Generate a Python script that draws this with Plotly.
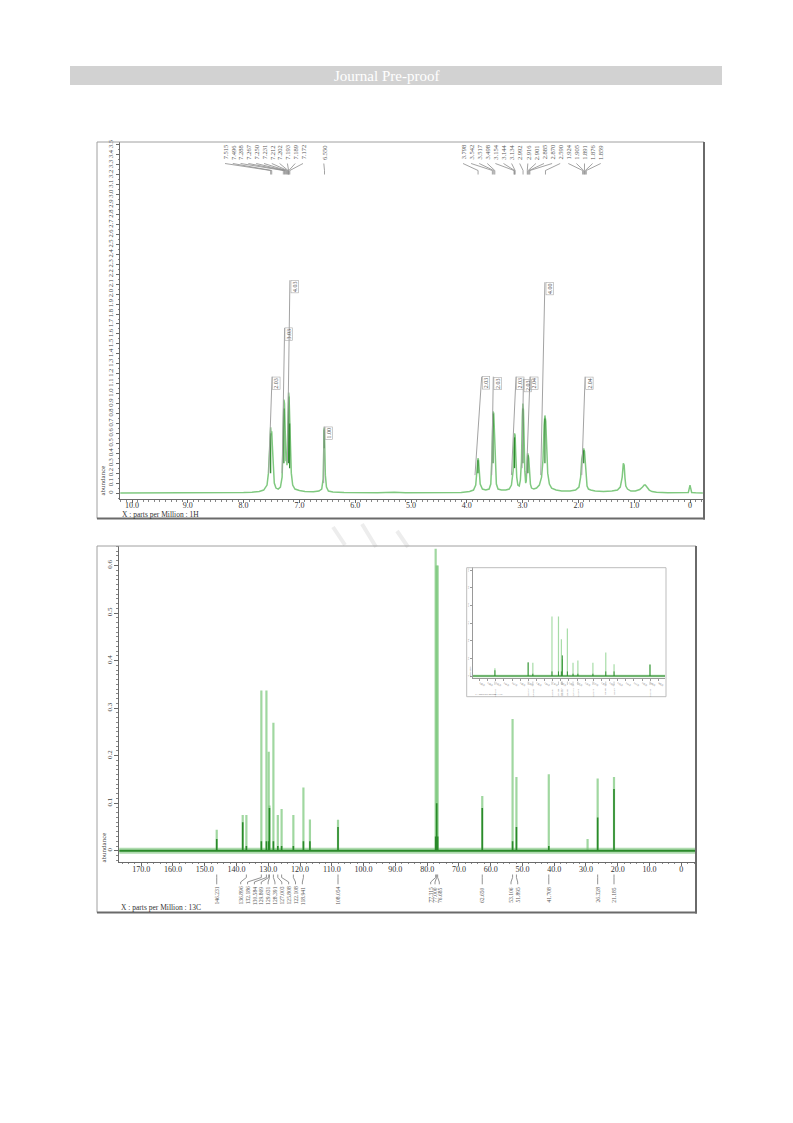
import plotly.graph_objects as go

# ====================== DATA ======================
# --- 1H spectrum trace (ppm, abundance)
h1_ppm = [10.21, 9.5, 8.80, 8.72, 8.65, 8.55, 8.45, 8.35, 8.2, 8.0,
          7.85, 7.72, 7.64, 7.58, 7.555, 7.535, 7.52, 7.515, 7.505, 7.496,
          7.485, 7.47, 7.45, 7.42, 7.38, 7.34, 7.31, 7.295, 7.288, 7.278,
          7.267, 7.258, 7.250, 7.24, 7.231, 7.222, 7.212, 7.202, 7.193, 7.185,
          7.172, 7.16, 7.145, 7.12, 7.08, 7.0, 6.9, 6.75, 6.65, 6.6,
          6.575, 6.562, 6.555, 6.548, 6.535, 6.515, 6.48, 6.4, 6.2, 6.0,
          5.6, 5.3, 5.25, 5.2, 5.1, 4.8, 4.4, 4.1, 3.95, 3.88,
          3.84, 3.815, 3.80, 3.79, 3.775, 3.76, 3.72, 3.66, 3.6, 3.57,
          3.552, 3.542, 3.53, 3.517, 3.505, 3.498, 3.485, 3.47, 3.44, 3.38,
          3.3, 3.24, 3.2, 3.17, 3.155, 3.144, 3.134, 3.122, 3.105, 3.085,
          3.06, 3.04, 3.02, 3.005, 2.995, 2.985, 2.975, 2.96, 2.945, 2.935,
          2.92, 2.91, 2.90, 2.89, 2.875, 2.86, 2.84, 2.8, 2.75, 2.7,
          2.66, 2.635, 2.615, 2.60, 2.585, 2.57, 2.55, 2.52, 2.48, 2.4,
          2.3, 2.15, 2.05, 1.99, 1.96, 1.94, 1.924, 1.915, 1.905, 1.898,
          1.891, 1.876, 1.862, 1.845, 1.82, 1.78, 1.7, 1.55, 1.4, 1.3,
          1.25, 1.215, 1.195, 1.18, 1.165, 1.15, 1.12, 1.06, 0.98, 0.9,
          0.85, 0.82, 0.80, 0.77, 0.73, 0.68, 0.6, 0.4, 0.1, 0.03,
          0.012, 0.0, -0.012, -0.03, -0.1, -0.23]
h1_abund = [0.0, 0.0, 0.0, 0.006, 0.002, 0.005, 0.003, 0.006, 0.003, 0.005,
            0.008, 0.015, 0.03, 0.08, 0.2, 0.45, 0.63, 0.66, 0.58, 0.62,
            0.48, 0.24, 0.1, 0.05, 0.04, 0.06, 0.16, 0.45, 0.82, 0.94,
            0.9, 0.75, 0.62, 0.32, 0.36, 0.28, 0.58, 0.93, 1.01, 0.96,
            0.74, 0.45, 0.2, 0.08, 0.04, 0.025, 0.015, 0.012, 0.02, 0.04,
            0.14, 0.48, 0.66, 0.52, 0.18, 0.06, 0.02, 0.01, 0.005, 0.003,
            0.003, 0.008, 0.01, 0.006, 0.003, 0.002, 0.003, 0.006, 0.015, 0.03,
            0.08, 0.22, 0.35, 0.33, 0.2, 0.09, 0.04, 0.03, 0.04, 0.09,
            0.33, 0.72, 0.82, 0.8, 0.58, 0.47, 0.2, 0.09, 0.04, 0.03,
            0.03, 0.04, 0.08, 0.22, 0.52, 0.6, 0.58, 0.38, 0.16, 0.08,
            0.07, 0.13, 0.32, 0.77, 0.9, 0.83, 0.52, 0.22, 0.1, 0.12,
            0.3, 0.4, 0.38, 0.35, 0.21, 0.09, 0.05, 0.04, 0.05, 0.08,
            0.16, 0.33, 0.68, 0.78, 0.72, 0.43, 0.2, 0.09, 0.05, 0.03,
            0.02, 0.02, 0.03, 0.06, 0.16, 0.34, 0.42, 0.44, 0.45, 0.43,
            0.42, 0.31, 0.16, 0.07, 0.04, 0.03, 0.02, 0.015, 0.02, 0.03,
            0.06, 0.16, 0.3, 0.28, 0.15, 0.07, 0.04, 0.02, 0.02, 0.035,
            0.06, 0.08, 0.08, 0.06, 0.03, 0.015, 0.008, 0.004, 0.003, 0.006,
            0.05, 0.08, 0.05, 0.006, 0.002, 0.0]

# darker picked-peak segments on the 1H trace
h1_pick_ppm = [7.515, 7.278, 7.193, 7.175, 6.555, 3.80, 3.53, 3.144, 2.995, 2.905, 2.60, 1.905]
h1_pick_lo = [0.2, 0.3, 0.3, 0.25, 0.45, 0.2, 0.3, 0.25, 0.3, 0.2, 0.3, 0.3]
h1_pick_hi = [0.6, 0.85, 0.97, 0.7, 0.64, 0.33, 0.8, 0.56, 0.85, 0.38, 0.75, 0.43]

# integrals
h1_int_text = ["2.03", "3.03", "4.03", "1.00", "2.03", "2.03", "2.03", "2.03", "2.04", "4.00", "2.04"]
h1_int_ppm_start = [7.55, 7.31, 7.215, 6.565, 3.853, 3.554, 3.20, 3.01, 2.93, 2.675, 1.94]
h1_int_ppm_end = [7.49, 7.265, 7.17, 6.555, 3.733, 3.525, 3.118, 2.985, 2.867, 2.60, 1.88]
h1_int_lo = [0.2, 0.2, 0.3, 0.1, 0.18, 0.18, 0.18, 0.25, 0.18, 0.18, 0.18]
h1_int_hi = [1.17, 1.66, 2.14, 0.67, 1.17, 1.17, 1.17, 1.15, 1.17, 2.12, 1.17]

# 1H peak labels
h1_labels_a = ["7.515", "7.496", "7.288", "7.267", "7.250", "7.231", "7.212", "7.202", "7.193", "7.189", "7.172"]
h1_labels_b = ["6.550"]
h1_labels_c = ["3.798", "3.542", "3.517", "3.498", "3.154", "3.144", "3.134", "2.992", "2.916",
               "2.901", "2.885", "2.870", "2.590", "1.924", "1.905", "1.891", "1.876", "1.859"]

# 1H axes ticks
h1_xtick_vals = [10, 9, 8, 7, 6, 5, 4, 3, 2, 1, 0]
h1_xtick_text = ["10.0", "9.0", "8.0", "7.0", "6.0", "5.0", "4.0", "3.0", "2.0", "1.0", "0"]
h1_ytick_vals = [0, 0.1, 0.2, 0.3, 0.4, 0.5, 0.6, 0.7, 0.8, 0.9, 1.0, 1.1, 1.2, 1.3, 1.4, 1.5, 1.6, 1.7,
                 1.8, 1.9, 2.0, 2.1, 2.2, 2.3, 2.4, 2.5, 2.6, 2.7, 2.8, 2.9, 3.0, 3.1, 3.2, 3.3, 3.4, 3.5]
h1_ytick_text = ["0", "0.1", "0.2", "0.3", "0.4", "0.5", "0.6", "0.7", "0.8", "0.9", "1.0", "1.1", "1.2",
                 "1.3", "1.4", "1.5", "1.6", "1.7", "1.8", "1.9", "2.0", "2.1", "2.2", "2.3", "2.4", "2.5",
                 "2.6", "2.7", "2.8", "2.9", "3.0", "3.1", "3.2", "3.3", "3.4", "3.5"]

# --- 13C peaks
c13_ppm = [146.231, 138.05, 136.896, 132.186, 130.584, 129.869, 129.631, 128.391, 127.003, 125.808,
           122.108, 118.941, 116.9, 108.054, 77.315, 77.000, 76.685, 62.650, 53.106, 51.895,
           41.708, 29.5, 26.328, 21.185]
c13_abund = [0.044, 0.075, 0.075, 0.337, 0.337, 0.208, 0.095, 0.269, 0.075, 0.088,
             0.075, 0.133, 0.066, 0.065, 0.635, 0.60, 0.60, 0.115, 0.277, 0.155,
             0.161, 0.025, 0.152, 0.155]
c13_dark = [0.025, 0.06, 0.01, 0.02, 0.02, 0.02, 0.09, 0.02, 0.01, 0.01,
            0.01, 0.02, 0.02, 0.05, 0.03, 0.10, 0.03, 0.09, 0.02, 0.05,
            0.01, 0.0, 0.07, 0.13]
c13_baseline_ppm = [177.0, -4.4]
c13_baseline_abund = [0.0, 0.0]

c13_label_groups = [["146.231"],
                    ["136.896", "132.186", "130.584", "129.869", "129.631", "128.391", "127.003",
                     "125.808", "122.108", "118.941"],
                    ["108.054"],
                    ["77.315", "77.000", "76.685"],
                    ["62.650"],
                    ["53.106", "51.895"],
                    ["41.708"], ["26.328"], ["21.185"]]

c13_xtick_vals = [170, 160, 150, 140, 130, 120, 110, 100, 90, 80, 70, 60, 50, 40, 30, 20, 10, 0]
c13_xtick_text = ["170.0", "160.0", "150.0", "140.0", "130.0", "120.0", "110.0", "100.0", "90.0",
                  "80.0", "70.0", "60.0", "50.0", "40.0", "30.0", "20.0", "10.0", "0"]
c13_ytick_vals = [0, 0.1, 0.2, 0.3, 0.4, 0.5, 0.6]
c13_ytick_text = ["0", "0.1", "0.2", "0.3", "0.4", "0.5", "0.6"]

inset_xtick_vals = [150, 148, 146, 144, 142, 140, 138, 136, 134, 132, 130, 128, 126, 124, 122, 120,
                    118, 116, 114, 112, 110, 108, 106]
inset_xtick_text = ["150.0", "148.0", "146.0", "144.0", "142.0", "140.0", "138.0", "136.0", "134.0",
                    "132.0", "130.0", "128.0", "126.0", "124.0", "122.0", "120.0", "118.0", "116.0",
                    "114.0", "112.0", "110.0", "108.0", "106.0"]

# ====================== LAYOUT HELPERS ======================
W, H = 793, 1123
SERIF = "Liberation Serif, Times New Roman, serif"


def pxx(x):
    return x / W


def pxy(y):
    return 1 - y / H


def h1_ppm_at(xpx):
    return (690.0 - xpx) / 55.8


def c13_ppm_at(xpx):
    return (681.3 - xpx) / 3.177


def sticks(xs, lo, hi):
    X, Y = [], []
    for x, a, b in zip(xs, lo, hi):
        X += [x, x, None]
        Y += [a, b, None]
    return X, Y


fig = go.Figure()

# ---------- 1H ----------
fig.add_trace(go.Scatter(x=h1_ppm, y=h1_abund, mode="lines", xaxis="x", yaxis="y",
                         line=dict(color="#80c980", width=1.5), hoverinfo="skip"))
X, Y = sticks(h1_pick_ppm, h1_pick_lo, h1_pick_hi)
fig.add_trace(go.Scatter(x=X, y=Y, mode="lines", xaxis="x", yaxis="y",
                         line=dict(color="#2e8b2e", width=1.2), hoverinfo="skip"))
IX, IY = [], []
for a, b, lo, hi in zip(h1_int_ppm_start, h1_int_ppm_end, h1_int_lo, h1_int_hi):
    IX += [a, b, None]
    IY += [lo, hi, None]
fig.add_trace(go.Scatter(x=IX, y=IY, mode="lines", xaxis="x", yaxis="y",
                         line=dict(color="#a3a3a3", width=1), hoverinfo="skip"))

# ---------- 13C ----------
fig.add_trace(go.Scatter(x=c13_baseline_ppm, y=c13_baseline_abund, mode="lines", xaxis="x2", yaxis="y2",
                         line=dict(color="rgba(110,190,110,0.55)", width=6), hoverinfo="skip"))
X, Y = sticks(c13_ppm, [0] * len(c13_ppm), c13_abund)
fig.add_trace(go.Scatter(x=X, y=Y, mode="lines", xaxis="x2", yaxis="y2",
                         line=dict(color="rgba(120,198,120,0.7)", width=2.2), hoverinfo="skip"))
fig.add_trace(go.Scatter(x=c13_baseline_ppm, y=c13_baseline_abund, mode="lines", xaxis="x2", yaxis="y2",
                         line=dict(color="#2a8a2a", width=2.2), hoverinfo="skip"))
X, Y = sticks(c13_ppm, [0] * len(c13_ppm), c13_dark)
fig.add_trace(go.Scatter(x=X, y=Y, mode="lines", xaxis="x2", yaxis="y2",
                         line=dict(color="#2a8a2a", width=1.6), hoverinfo="skip"))

# ---------- inset ----------
INSET_RANGE = [151.7, 104.36]
in_idx = [i for i, p in enumerate(c13_ppm) if INSET_RANGE[1] < p < INSET_RANGE[0]]
in_ppm = [c13_ppm[i] for i in in_idx]
fig.add_trace(go.Scatter(x=c13_baseline_ppm, y=c13_baseline_abund, mode="lines", xaxis="x3", yaxis="y3",
                         line=dict(color="rgba(110,190,110,0.5)", width=2.5), hoverinfo="skip"))
X, Y = sticks(in_ppm, [0] * len(in_ppm), [c13_abund[i] for i in in_idx])
fig.add_trace(go.Scatter(x=X, y=Y, mode="lines", xaxis="x3", yaxis="y3",
                         line=dict(color="rgba(130,205,130,0.7)", width=1.2), hoverinfo="skip"))
fig.add_trace(go.Scatter(x=c13_baseline_ppm, y=c13_baseline_abund, mode="lines", xaxis="x3", yaxis="y3",
                         line=dict(color="#2a8a2a", width=1.1), hoverinfo="skip"))
X, Y = sticks(in_ppm, [0] * len(in_ppm), [c13_dark[i] * 1.3 for i in in_idx])
fig.add_trace(go.Scatter(x=X, y=Y, mode="lines", xaxis="x3", yaxis="y3",
                         line=dict(color="#2a8a2a", width=0.9), hoverinfo="skip"))

shapes = []
annotations = []

# header bar
shapes.append(dict(type="rect", xref="paper", yref="paper", x0=pxx(70), x1=pxx(722), y0=pxy(85), y1=pxy(66),
                   fillcolor="#d2d2d2", line=dict(width=0), layer="below"))
annotations.append(dict(text="Journal Pre-proof", xref="paper", yref="paper", x=pxx(386), y=pxy(75.5),
                        showarrow=False, font=dict(family=SERIF, size=15, color="white"),
                        xanchor="center", yanchor="middle"))

# faint watermark strokes
for (x0, y0, x1, y1) in [(333, 527, 345, 545), (362, 524, 376, 547), (397, 531, 408, 547)]:
    shapes.append(dict(type="line", xref="paper", yref="paper", x0=pxx(x0), y0=pxy(y0), x1=pxx(x1), y1=pxy(y1),
                       line=dict(color="#ededed", width=4), layer="below"))


def frame(x0, y0, x1, y1, thin="#a0a0a0", thick="#6a6a6a"):
    shapes.append(dict(type="line", xref="paper", yref="paper", x0=pxx(x0), y0=pxy(y0), x1=pxx(x1), y1=pxy(y0),
                       line=dict(color=thin, width=1)))
    shapes.append(dict(type="line", xref="paper", yref="paper", x0=pxx(x0), y0=pxy(y0), x1=pxx(x0), y1=pxy(y1),
                       line=dict(color=thin, width=1)))
    shapes.append(dict(type="line", xref="paper", yref="paper", x0=pxx(x1), y0=pxy(y0), x1=pxx(x1), y1=pxy(y1 + 1),
                       line=dict(color=thick, width=2)))
    shapes.append(dict(type="line", xref="paper", yref="paper", x0=pxx(x0), y0=pxy(y1), x1=pxx(x1 + 1), y1=pxy(y1),
                       line=dict(color=thick, width=2)))


frame(97, 142, 704, 518.5)
frame(97, 546, 696, 912.5)
shapes.append(dict(type="rect", xref="paper", yref="paper", x0=pxx(466.7), x1=pxx(666), y0=pxy(696.7),
                   y1=pxy(567.7), line=dict(color="#bdbdbd", width=1)))

LBL = "#555555"
LEAD = "#8c8c8c"

# 1H peak labels with leader lines
for labels, start, step in [(h1_labels_a, 225, 7.8), (h1_labels_b, 323.8, 0), (h1_labels_c, 463, 8.1)]:
    for i, t in enumerate(labels):
        lx = h1_ppm_at(start + i * step)
        pk = float(t)
        annotations.append(dict(text=t, x=lx, xref="x", y=pxy(142.8), yref="paper", showarrow=False,
                                textangle=-90, xanchor="center", yanchor="top",
                                font=dict(family=SERIF, size=6.5, color=LBL)))
        shapes.append(dict(type="path", xref="x", yref="paper",
                           path=f"M {lx},{pxy(163.5)} L {pk},{pxy(170.5)} L {pk},{pxy(174.5)}",
                           line=dict(color=LEAD, width=0.8)))

# integral labels
for t, x, y in zip(h1_int_text, h1_int_ppm_end, h1_int_hi):
    annotations.append(dict(text=t, x=x, xref="x", y=y, yref="y", showarrow=False, textangle=-90,
                            xanchor="left", yanchor="top", xshift=0.5,
                            font=dict(family=SERIF, size=6, color=LBL),
                            bordercolor="#a8a8a8", borderwidth=0.6, borderpad=0.5))

annotations.append(dict(text="abundance", xref="paper", yref="paper", x=pxx(102.5), y=pxy(481),
                        showarrow=False, textangle=-90, font=dict(family=SERIF, size=7, color="#444"),
                        xanchor="center", yanchor="middle"))
annotations.append(dict(text="X : parts per Million : 1H", xref="paper", yref="paper", x=pxx(120), y=pxy(514),
                        showarrow=False, font=dict(family=SERIF, size=7.5, color="#333"),
                        xanchor="left", yanchor="middle"))

# 13C peak labels
group_layout = [None, (240.7, 6.85), None, (430.7, 4.3), None, (511.0, 6.7), None, None, None]
for labels, lay in zip(c13_label_groups, group_layout):
    for i, t in enumerate(labels):
        pk = float(t)
        lx = pk if lay is None else c13_ppm_at(lay[0] + i * lay[1])
        annotations.append(dict(text=t, x=lx, xref="x2", y=pxy(884.8), yref="paper", showarrow=False,
                                textangle=-90, xanchor="center", yanchor="top",
                                font=dict(family=SERIF, size=5.6, color=LBL)))
        shapes.append(dict(type="path", xref="x2", yref="paper",
                           path=(f"M {pk},{pxy(874.5)} L {pk},{pxy(877.5)} L {lx},{pxy(882)} "
                                 f"L {lx},{pxy(884.3)}"),
                           line=dict(color="#777777", width=0.8)))

annotations.append(dict(text="abundance", xref="paper", yref="paper", x=pxx(103.5), y=pxy(847),
                        showarrow=False, textangle=-90, font=dict(family=SERIF, size=7, color="#444"),
                        xanchor="center", yanchor="middle"))
annotations.append(dict(text="X : parts per Million : 13C", xref="paper", yref="paper", x=pxx(119), y=pxy(907),
                        showarrow=False, font=dict(family=SERIF, size=7.5, color="#333"),
                        xanchor="left", yanchor="middle"))

# inset labels
for i in in_idx:
    p = c13_ppm[i]
    shapes.append(dict(type="line", xref="x3", yref="paper", x0=p, x1=p, y0=pxy(681.5), y1=pxy(685),
                       line=dict(color="#9a9a9a", width=0.5)))
    annotations.append(dict(text=f"{p:.3f}", x=p, xref="x3", y=pxy(685.5), yref="paper", showarrow=False,
                            textangle=-90, xanchor="center", yanchor="top",
                            font=dict(family=SERIF, size=2.4, color="#777")))
annotations.append(dict(text="X : parts per Million : 13C", xref="paper", yref="paper", x=pxx(473), y=pxy(694.5),
                        showarrow=False, font=dict(family=SERIF, size=2.6, color="#666"),
                        xanchor="left", yanchor="middle"))
annotations.append(dict(text="abundance", xref="paper", yref="paper", x=pxx(469.5), y=pxy(672),
                        showarrow=False, textangle=-90, font=dict(family=SERIF, size=2.6, color="#666"),
                        xanchor="center", yanchor="middle"))

AX = dict(showgrid=False, zeroline=False, showline=True, linecolor="#6a6a6a", linewidth=1,
          ticks="outside", tickcolor="#6a6a6a", automargin=False, fixedrange=True)

fig.update_layout(
    width=W, height=H, template="none", showlegend=False,
    margin=dict(l=0, r=0, t=0, b=0), paper_bgcolor="white", plot_bgcolor="rgba(0,0,0,0)",
    xaxis=dict(AX, domain=[pxx(120), pxx(703)], range=[h1_ppm_at(120), h1_ppm_at(703)], anchor="y",
               tickvals=h1_xtick_vals, ticktext=h1_xtick_text, ticklen=3, ticklabelstandoff=-5,
               tickfont=dict(family=SERIF, size=8, color="#333"),
               minor=dict(ticks="outside", ticklen=1.5, dtick=0.1, tick0=0, tickcolor="#888")),
    yaxis=dict(AX, domain=[pxy(499), pxy(142)], range=[-0.06, 3.53], anchor="x",
               tickvals=h1_ytick_vals, ticktext=h1_ytick_text, tickangle=-90, ticklen=3,
               tickfont=dict(family=SERIF, size=6.5, color="#444"),
               minor=dict(ticks="outside", ticklen=1.5, dtick=0.05, tick0=0, tickcolor="#888")),
    xaxis2=dict(AX, domain=[pxx(119.3), pxx(695)], range=[c13_ppm_at(119.3), c13_ppm_at(695)], anchor="y2",
                tickvals=c13_xtick_vals, ticktext=c13_xtick_text, ticklen=3, ticklabelstandoff=-3,
                tickfont=dict(family=SERIF, size=8, color="#333"),
                minor=dict(ticks="outside", ticklen=1.5, dtick=2, tick0=0, tickcolor="#888")),
    yaxis2=dict(AX, domain=[pxy(861.7), pxy(546)], range=[-0.023, 0.641], anchor="x2",
                tickvals=c13_ytick_vals, ticktext=c13_ytick_text, tickangle=-90, ticklen=4,
                tickfont=dict(family=SERIF, size=7, color="#444"),
                minor=dict(ticks="outside", ticklen=2, dtick=0.01, tick0=0, tickcolor="#888")),
    xaxis3=dict(AX, domain=[pxx(472.7), pxx(665)], range=INSET_RANGE, anchor="y3",
                tickvals=inset_xtick_vals, ticktext=inset_xtick_text, ticklen=1.5, linecolor="#9a9a9a",
                tickcolor="#9a9a9a", linewidth=0.6,
                tickfont=dict(family=SERIF, size=2.6, color="#666")),
    yaxis3=dict(AX, domain=[pxy(678.3), pxy(566.7)], range=[-0.013, 0.62], anchor="x3",
                tickvals=c13_ytick_vals, ticktext=c13_ytick_text, tickangle=-90, ticklen=1.5,
                linecolor="#9a9a9a", tickcolor="#9a9a9a", linewidth=0.6,
                tickfont=dict(family=SERIF, size=2.6, color="#666")),
    shapes=shapes, annotations=annotations,
)

fig.write_html("out.html", config={"displayModeBar": False},
               post_script="document.body.style.margin='0';")
